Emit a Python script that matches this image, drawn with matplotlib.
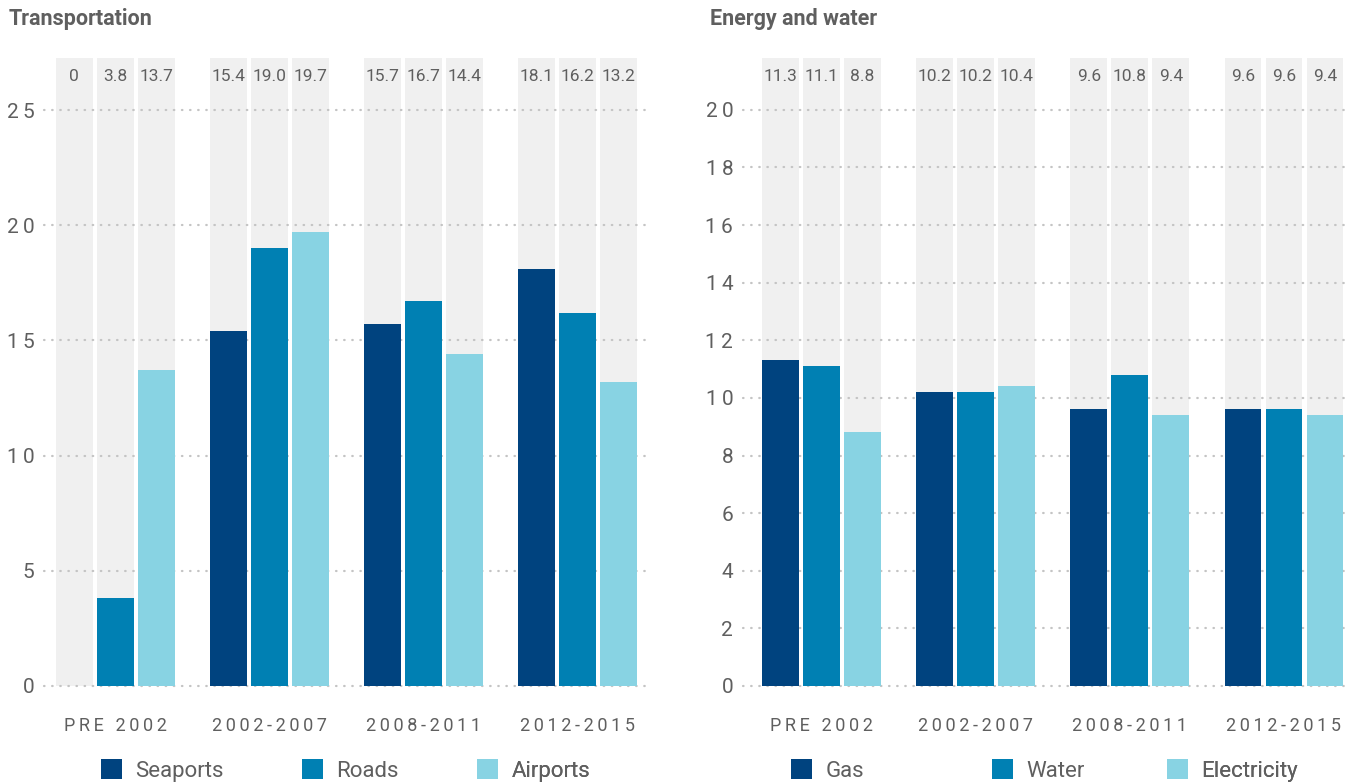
import matplotlib
matplotlib.use("Agg")
import matplotlib.pyplot as plt
from matplotlib.patches import Patch
import numpy as np

plt.rcParams['font.family'] = ['Roboto', 'DejaVu Sans']

# ---- data ----
periods = ["PRE 2002", "2002-2007", "2008-2011", "2012-2015"]

transport_names = ["Seaports", "Roads", "Airports"]
seaports = [0.0, 15.4, 15.7, 18.1]
roads = [3.8, 19.0, 16.7, 16.2]
airports = [13.7, 19.7, 14.4, 13.2]

energy_names = ["Gas", "Water", "Electricity"]
gas = [11.3, 10.2, 9.6, 9.6]
water = [11.1, 10.2, 10.8, 9.6]
electricity = [8.8, 10.4, 9.4, 9.4]

transport_ticks = [0, 5, 10, 15, 20, 25]
energy_ticks = [0, 2, 4, 6, 8, 10, 12, 14, 16, 18, 20]

# ---- style ----
COLORS = ["#00437f", "#0080b3", "#88d3e3"]
BAND = "#f0f0f0"
GRID = "#c4c4c4"
TEXT = "#5f5f5f"
THIN = "\u2009"
FIG_W_PX = 1355
LEGEND_COLS_PX = [0, 201, 376]   # fixed column offsets of the legend entries


def spaced(s):
    return THIN.join(s)


GROUP_STEP = 3.76
BAR_W = 0.9


def draw_panel(ax, series, names, ticks, ymax, xlim, title, title_x):
    centers = np.arange(len(periods)) * GROUP_STEP
    for k, vals in enumerate(series):
        xs = centers + (k - 1)
        ax.bar(xs, [ymax] * len(xs), width=BAR_W, color=BAND, zorder=1,
               linewidth=0)
        ax.bar(xs, vals, width=BAR_W, color=COLORS[k], zorder=3,
               linewidth=0, label=names[k])
        for x, v in zip(xs, vals):
            txt = "0" if v == 0 else f"{v:.1f}"
            ax.text(x, 0.971, txt, transform=ax.get_xaxis_transform(),
                    ha="center", va="center", fontsize=12.5, color=TEXT,
                    zorder=4)
    for t in ticks:
        ax.axhline(t, color=GRID, linewidth=1.6,
                   linestyle=(0, (0.25, 3.4)), dash_capstyle="round",
                   zorder=2, clip_on=False)
    ax.set_ylim(0, ymax)
    ax.set_xlim(*xlim)
    ax.set_yticks(ticks)
    ax.set_yticklabels([spaced(str(t)) for t in ticks], fontsize=15,
                       color=TEXT)
    ax.set_xticks(centers)
    ax.set_xticklabels([spaced(p) for p in periods], fontsize=13,
                       color=TEXT)
    ax.tick_params(axis="y", length=0, pad=7)
    ax.tick_params(axis="x", length=0, pad=22)
    for s in ax.spines.values():
        s.set_visible(False)
    ax.figure.text(title_x, 0.976, title, fontsize=15.5, fontweight="bold",
                   color=TEXT, ha="left", va="center")


def add_legend(ax, names, x0_px):
    # one single-entry legend per series so the columns sit at fixed spots
    for k, name in enumerate(names):
        x = (x0_px + LEGEND_COLS_PX[k]) / FIG_W_PX
        leg = ax.legend([Patch(facecolor=COLORS[k], edgecolor="none")],
                        [name], loc="center left",
                        bbox_to_anchor=(x, 0.016),
                        bbox_transform=ax.figure.transFigure,
                        frameon=False, fontsize=16, handlelength=0.95,
                        handleheight=0.95, handletextpad=0.6,
                        labelcolor=TEXT, borderpad=0, borderaxespad=0)
        ax.add_artist(leg)


fig = plt.figure(figsize=(13.55, 7.83), dpi=100)
ax1 = fig.add_axes([0.0325, 0.1239, 0.4445, 0.802])
ax2 = fig.add_axes([0.5483, 0.1239, 0.4480, 0.802])

draw_panel(ax1, [seaports, roads, airports], transport_names,
           transport_ticks, 27.26, (-1.74, 12.96), "Transportation", 0.006)
draw_panel(ax2, [gas, water, electricity], energy_names,
           energy_ticks, 21.8, (-1.915, 12.89), "Energy and water", 0.524)

add_legend(ax1, transport_names, 101)
add_legend(ax2, energy_names, 791)

fig.savefig("out.png", dpi=100)
